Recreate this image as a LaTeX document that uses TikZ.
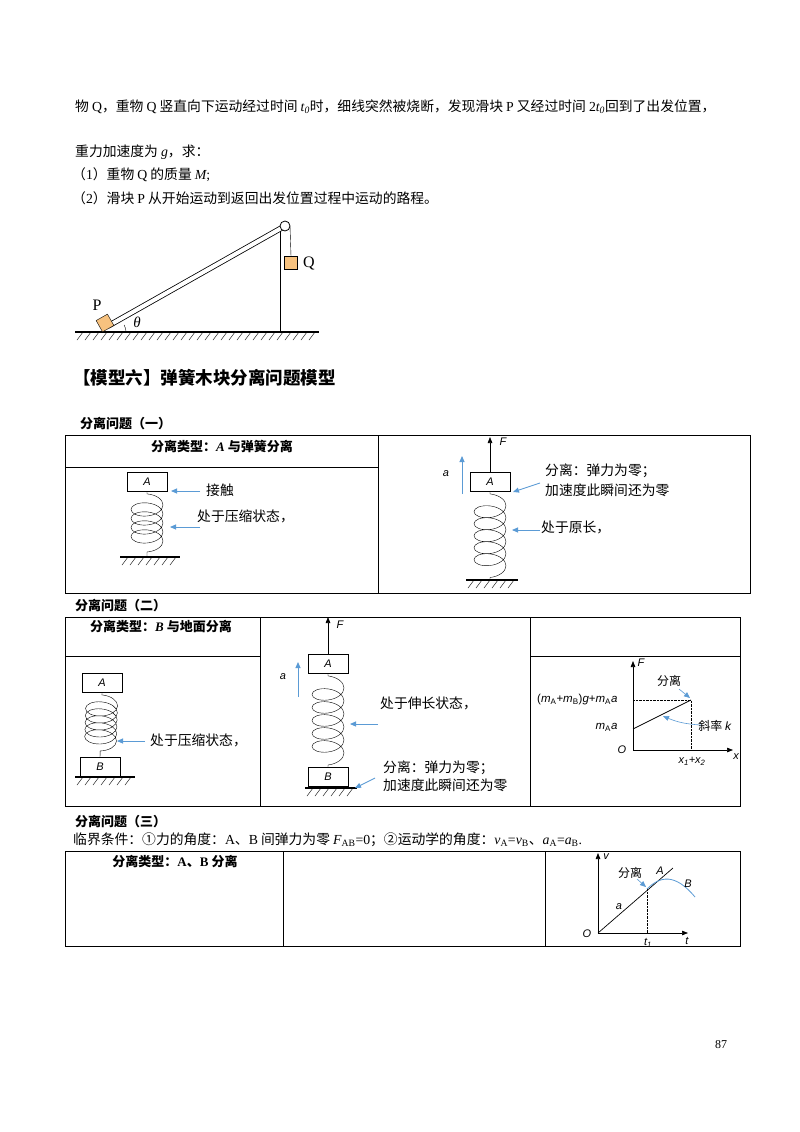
\documentclass[tikz,border=0pt]{standalone}
\usepackage{fontspec}
\setmainfont{Liberation Serif}
\newfontfamily\cjk{Noto Sans CJK SC}
\newfontfamily\lsans{Liberation Sans}
\usetikzlibrary{decorations.pathmorphing,arrows.meta}
\definecolor{bl}{HTML}{5B9BD5}
\definecolor{org}{HTML}{F7C27F}
\newcommand\grnd[4]{\draw[line width=1.3pt] (#1,#2) -- ++(#3*#4+4,0);
  \foreach \k in {1,...,#3} \draw (#1+\k*#4,#2) -- ++(-6,8);}
\newcommand\ri[1]{{\rmfamily\itshape #1}}
\newcommand\rs[1]{{\rmfamily\textsubscript{#1}}}
\begin{document}
\begin{tikzpicture}[x=1pt,y=-1pt,font=\cjk\fontsize{13.8}{16}\selectfont,
  blk/.style={draw,line width=0.8pt,minimum width=40pt,minimum height=19pt,inner sep=0pt,font=\lsans\itshape\fontsize{11}{12}\selectfont},
  spr/.style={decorate,decoration={coil,aspect=0.55,amplitude=16pt,segment length=#1,pre length=2pt,post length=2pt}},
  barr/.style={-{Triangle[length=6pt,width=5pt]},bl,line width=0.9pt},
  karr/.style={-{Triangle[length=6pt,width=4.5pt]},line width=0.7pt},
  tbl/.style={line width=0.8pt},
  sm/.style={font=\lsans\itshape\fontsize{11}{12}\selectfont},
  lab/.style={anchor=west,inner sep=0pt},
  hd/.style={anchor=west,inner sep=0pt,font=\cjk\bfseries\fontsize{13}{15}\selectfont}]
\useasboundingbox[fill=white] (0,0) rectangle (800,1132);
% top text
\node[lab] (t1) at (75,107) {物 {\rmfamily Q}，重物 {\rmfamily Q} 竖直向下运动经过时间 \ri{t}\rs{\itshape 0}时，细线突然被烧断，发现滑块 {\rmfamily P} 又经过时间 {\rmfamily 2}\ri{t}\rs{\itshape 0}回到了出发位置，};
\node[lab] (t2) at (75,152) {重力加速度为 \ri{g}，求：};
\node[lab] (t3) at (72,175) {（{\rmfamily 1}）重物 {\rmfamily Q} 的质量 \ri{M}{\rmfamily ;}};
\node[lab] (t4) at (72,198) {（{\rmfamily 2}）滑块 {\rmfamily P} 从开始运动到返回出发位置过程中运动的路程。};
% incline
\grnd{75}{332}{30}{8}
\coordinate (pl) at (285,226);
\draw[line width=0.8pt] (280,230) -- (280,332);
\draw[double distance=4pt,line width=0.8pt] (108,326) -- (pl);
\draw[line width=0.8pt,fill=white] (pl) circle (5);
\node[draw,fill=org,minimum size=13pt,inner sep=0,rotate=29.5] (P) at (105,323) {};
\node[draw,fill=org,minimum size=13pt,inner sep=0] (Q) at (291,263) {};
\draw (290,226) -- (Q.north);
\node[font=\rmfamily\fontsize{16}{16}\selectfont] (Pl) at (97,305) {P};
\node[font=\rmfamily\fontsize{16}{16}\selectfont] (Ql) at (309,263) {Q};
\draw (126,332) arc (180:150:-14);
\node[font=\rmfamily\itshape\fontsize{15}{15}\selectfont] (th) at (137,322) {θ};
% heading
\node[lab,font=\cjk\bfseries\fontsize{17.5}{20}\selectfont] (h) at (73,378) {【模型六】弹簧木块分离问题模型};
% table 1
\node[hd] (s1) at (80,424) {分离问题（一）};
\draw[tbl] (65,435) rectangle (750,593) (378,435) -- (378,593) (65,467) -- (378,467);
\node[font=\cjk\bfseries\fontsize{13}{15}\selectfont] (c1) at (222,446) {分离类型：\textit{\rmfamily A} 与弹簧分离};
\node[blk] (A1) at (147,482) {A};
\grnd{120}{557}{7}{8}
\draw[spr=9pt] (A1.south) -- (147,557);
\draw[barr] (200,491) -- (171,491);
\node[lab] at (206,490) {接触};
\draw[barr] (200,527) -- (170,527);
\node[lab] at (197,516) {处于压缩状态，};
\node[blk] (A2) at (490,482) {A};
\node[sm] at (503,442) {F};
\draw[karr] (A2.north) -- (490,437);
\draw[barr] (462,494) -- (462,456);
\node[sm] at (446,474) {a};
\grnd{466}{580}{6}{8}
\draw[spr=12pt] (A2.south) -- (490,580);
\node[lab] at (545,471) {分离：弹力为零；};
\node[lab] at (545,490) {加速度此瞬间还为零};
\draw[barr] (540,483) -- (513,492);
\draw[barr] (540,530) -- (512,530);
\node[lab] at (541,527) {处于原长，};
% table 2
\node[hd] (s2) at (75,606) {分离问题（二）};
\draw[tbl] (65,617) rectangle (740,806) (260,617) -- (260,806) (530,617) -- (530,806) (65,656) -- (260,656) (530,656) -- (740,656);
\node[font=\cjk\bfseries\fontsize{13}{15}\selectfont] (c2) at (161,627) {分离类型：\textit{\rmfamily B} 与地面分离};
\node[blk] (A3) at (102,683) {A};
\node[blk] (B3) at (100,767) {B};
\draw[spr=7pt] (A3.south) -- (B3.north);
\grnd{75}{777}{7}{8}
\draw[barr] (145,741) -- (117,741);
\node[lab] at (150,740) {处于压缩状态，};
\node[blk] (A4) at (328,664) {A};
\node[blk] (B4) at (328,777) {B};
\draw[spr=13pt] (A4.south) -- (B4.north);
\grnd{305}{788}{6}{8}
\draw[karr] (A4.north) -- (328,617);
\node[sm] at (340,625) {F};
\draw[barr] (298,697) -- (298,662);
\node[sm] at (283,677) {a};
\node[lab] at (380,703) {处于伸长状态，};
\draw[barr] (378,724) -- (350,724);
\node[lab] at (383,768) {分离：弹力为零；};
\node[lab] at (383,785) {加速度此瞬间还为零};
\draw[barr] (375,778) -- (355,788);
% graph F-x
\coordinate (O1) at (633,750);
\draw[karr] (O1) -- (633,661);
\draw[karr] (O1) -- (733,750);
\draw[line width=0.7pt] (633,729) -- (691,700);
\draw[densely dotted] (633,700) -- (691,700) -- (691,750);
\node[sm] at (641,663) {F};
\node[sm] at (736,757) {x};
\node[sm] at (622,750) {O};
\node[font=\lsans\fontsize{11.5}{12}\selectfont,anchor=east] at (621,700) {(\textit{m}\textsubscript{A}+\textit{m}\textsubscript{B})\textit{g}+\textit{m}\textsubscript{A}\textit{a}};
\node[font=\lsans\fontsize{11.5}{12}\selectfont,anchor=east] at (621,727) {\textit{m}\textsubscript{A}\textit{a}};
\node[sm] at (692,761) {x\textsubscript{1}+x\textsubscript{2}};
\node[font=\cjk\fontsize{12}{13}\selectfont] at (669,681) {分离};
\draw[barr,line width=0.6pt] (679,689) -- (690,698);
\node[font=\cjk\fontsize{12}{13}\selectfont] at (715,726) {斜率 \textit{\lsans k}};
\draw[barr,line width=0.6pt] (701,725) to[bend left=10] (663,716);
% table 3
\node[hd] (s3) at (75,822) {分离问题（三）};
\node[lab] (crit) at (73,840) {临界条件：①力的角度：{\rmfamily A}、{\rmfamily B} 间弹力为零 \ri{F}\rs{AB}{\rmfamily =0}；②运动学的角度：\ri{v}\rs{A}{\rmfamily =}\ri{v}\rs{B}、\ri{a}\rs{A}{\rmfamily =}\ri{a}\rs{B}{\rmfamily .}};
\draw[tbl] (65,851) rectangle (740,946) (283,851) -- (283,946) (545,851) -- (545,946);
\node[font=\cjk\bfseries\fontsize{13}{15}\selectfont] (c3) at (175,861) {分离类型：{\rmfamily A}、{\rmfamily B} 分离};
\coordinate (O2) at (598,933);
\draw[karr] (O2) -- (598,853);
\draw[karr] (O2) -- (688,933);
\coordinate (sp) at (647,889);
\draw[line width=0.7pt] (O2) -- (673,868);
\draw[densely dotted] (sp) -- (647,933);
\draw[bl,line width=0.8pt] (sp) .. controls (660,876) and (675,873) .. (695,897);
\node[sm] at (606,857) {v};
\node[sm] at (687,941) {t};
\node[sm] at (587,934) {O};
\node[sm] at (648,943) {t\textsubscript{1}};
\node[sm] at (660,871) {A};
\node[sm] at (688,884) {B};
\node[sm] at (619,907) {a};
\node[font=\cjk\fontsize{12}{13}\selectfont] at (630,873) {分离};
\draw[barr,line width=0.6pt] (637,879) -- (646,887);
\node[font=\rmfamily\fontsize{12}{12}\selectfont] at (721,1045) {87};
\end{tikzpicture}
\end{document}
